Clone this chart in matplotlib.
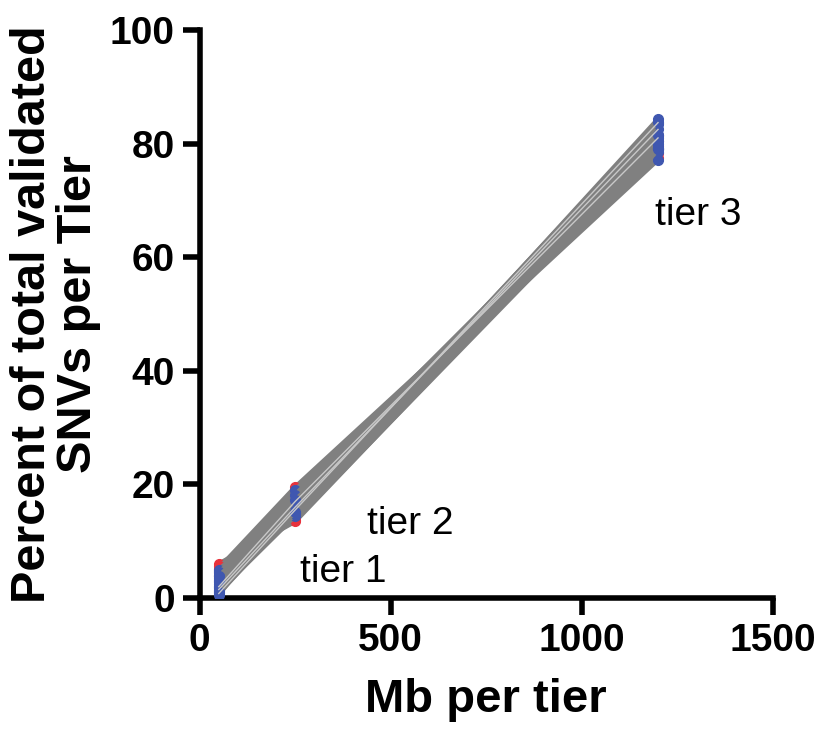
import matplotlib.pyplot as plt

plt.rcParams['font.family'] = ['Liberation Sans', 'DejaVu Sans']

# Mb covered by each tier
tier_mb = [50, 250, 1200]
tier_names = ['tier 1', 'tier 2', 'tier 3']

# percent of validated SNVs per tier, one row per sample
red_t1 = [6.0, 5.2, 4.4, 3.8, 5.6]
red_t2 = [13.5, 19.5, 14.2, 18.8, 13.8]
red_t3 = [80.5, 78.3, 81.4, 77.4, 79.5]

blue_t1 = [0.8, 1.5, 2.0, 2.5, 3.0, 3.5, 4.0, 4.8, 1.2, 2.2, 3.2, 5.0,
           0.6, 1.8, 2.8, 4.5, 1.0, 3.8]
blue_t2 = [15.5, 16.0, 17.0, 18.5, 16.5, 15.0, 17.5, 18.0, 14.5, 19.0, 16.8, 15.8,
           17.8, 14.8, 18.2, 16.2, 15.2, 17.2]
blue_t3 = [83.7, 82.5, 81.0, 79.0, 80.5, 81.5, 78.5, 77.2, 84.3, 78.8, 80.0, 79.2,
           81.6, 83.4, 79.0, 79.3, 83.8, 79.0]

fig = plt.figure(figsize=(8.15, 7.32), dpi=100)
ax = fig.add_axes([0.245, 0.183, 0.703, 0.776])

for a, b, c in zip(red_t1, red_t2, red_t3):
    ax.plot(tier_mb, [a, b, c], color='#808080', lw=3.5, zorder=2,
            marker='o', ms=7, mfc='#e8323c', mec='#e8323c')
for a, b, c in zip(blue_t1, blue_t2, blue_t3):
    ax.plot(tier_mb, [a, b, c], color='#808080', lw=3.5, zorder=3,
            marker='o', ms=7, mfc='#3f57b0', mec='#3f57b0')
# a few paler traces across the bundle
for a, b, c in zip(blue_t1[:3], blue_t2[:3], blue_t3[:3]):
    ax.plot(tier_mb, [a, b, c], color='#c8c8c8', lw=1, zorder=4)

ax.text(262, 4.6, tier_names[0], fontsize=28, va='center')
ax.text(437, 13.0, tier_names[1], fontsize=28, va='center')
ax.text(1191, 67.5, tier_names[2], fontsize=28, va='center')

ax.set_xlim(0, 1500)
ax.set_ylim(0, 100)
ax.set_xticks([0, 500, 1000, 1500])
ax.set_yticks([0, 20, 40, 60, 80, 100])
for s in ['top', 'right']:
    ax.spines[s].set_visible(False)
for s in ['left', 'bottom']:
    ax.spines[s].set_linewidth(4)
ax.tick_params(width=4, length=12, labelsize=28, pad=6)
for lab in ax.get_xticklabels() + ax.get_yticklabels():
    lab.set_fontweight('bold')

ax.set_xlabel('Mb per tier', fontsize=34, fontweight='bold', labelpad=14)
ax.set_ylabel('Percent of total validated\nSNVs per Tier', fontsize=35,
              fontweight='bold', labelpad=6, linespacing=1.05)

fig.savefig('out.png', dpi=100)
